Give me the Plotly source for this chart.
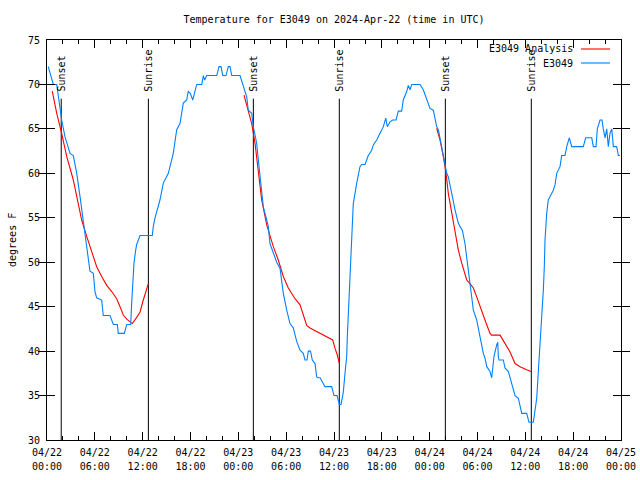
import plotly.graph_objects as go
import pandas as pd

# ---------------- data ----------------
BASE = "2024-04-22 00:00"

# observed E3049 temperatures (hours since BASE, degrees F)
obs_hours = [0.16, 0.59, 0.79, 1.22, 1.63, 1.84, 2.26, 2.89, 3.30, 3.73, 4.14, 4.55, 4.77, 4.98,
             5.18, 5.39, 5.81, 6.02, 6.23, 6.86, 7.06, 7.90, 8.32, 8.82, 8.94, 9.70, 10.00, 10.50,
             10.62, 10.75, 10.91, 11.13, 11.25, 11.67, 13.21, 13.33, 13.55, 14.17, 14.59, 15.22,
             15.84, 16.27, 16.68, 17.10, 17.52, 17.72, 17.98, 18.28, 18.57, 18.78, 19.41, 19.61,
             19.78, 20.03, 21.29, 21.58, 21.83, 22.04, 22.45, 22.74, 22.96, 23.17, 24.21, 24.62,
             25.05, 25.25, 25.68, 25.88, 26.30, 26.51, 26.72, 27.13, 27.56, 27.76, 27.97, 28.39,
             28.81, 29.23, 29.64, 30.07, 30.48, 30.90, 31.32, 31.74, 32.15, 32.36, 32.61, 32.78,
             33.05, 33.28, 33.62, 33.83, 34.03, 34.25, 34.87, 35.71, 36.00, 36.38, 36.67, 36.88,
             37.17, 37.38, 37.59, 37.67, 37.80, 37.92, 38.01, 38.13, 38.26, 38.42, 38.85, 39.26,
             39.48, 39.89, 40.30, 40.73, 40.93, 41.36, 41.77, 42.19, 42.49, 42.69, 43.03, 43.36,
             43.78, 44.07, 44.49, 44.69, 45.12, 45.32, 45.54, 45.75, 46.16, 46.79, 47.20, 47.63,
             48.04, 48.46, 48.67, 48.88, 49.09, 49.51, 49.71, 49.93, 50.14, 50.34, 50.55, 50.77,
             51.18, 51.59, 51.81, 52.10, 52.43, 52.65, 52.85, 53.06, 53.27, 53.48, 53.90, 54.10,
             54.32, 54.73, 54.94, 55.16, 55.57, 55.78, 55.91, 56.07, 56.41, 56.54, 56.61, 56.70,
             57.24, 57.45, 57.87, 58.08, 58.29, 58.71, 59.12, 59.34, 59.55, 60.17, 60.46, 61.00,
             61.22, 61.43, 61.63, 61.84, 62.06, 62.26, 62.38, 62.47, 62.68, 62.88, 63.10, 63.51,
             63.72, 63.94, 64.35, 64.56, 64.98, 65.19, 65.52, 65.82, 67.27, 67.57, 68.33, 68.53,
             68.87, 69.03, 69.37, 69.62, 69.78, 70.00, 70.21, 70.41, 70.62, 70.84, 71.04, 71.46,
             71.67, 71.88]
obs_temps = [72, 70.5, 70, 70, 67.5, 66, 64.1, 62.25, 62, 60, 57.4, 54.6, 53.25, 51.75,
             50.4, 49, 48.75, 46.7, 46, 45.75, 44, 44, 43, 43, 42, 42, 43, 43,
             45.4, 47.4, 49.9, 51.4, 52, 53, 53, 54, 55, 57, 58.9, 60,
             62.25, 64.9, 65.6, 67.9, 68.25, 69.2, 69, 68.25, 69.2, 70, 70, 71,
             70.5, 71, 71, 72, 72, 71, 71, 72, 72, 71, 71, 69.75,
             68.6, 67.1, 66.75, 65.25, 63.4, 61.5, 59.5, 56.25, 54.75, 54, 52.1, 51,
             50, 49.3, 46.5, 44.6, 43.1, 42.6, 41.1, 40.1, 39.75, 39, 39, 40,
             40, 39, 38.6, 37.1, 37, 37, 36, 36, 35, 35, 34, 34,
             35.4, 37.5, 39.4, 41.6, 44.25, 46.9, 49.1, 51.75, 54, 56.6, 58.9, 60.75,
             61, 61, 62, 62.6, 63.2, 63.75, 64.5, 65.25, 66.2, 65.25, 65.8, 66,
             66, 67, 67, 68.25, 69.2, 69.9, 69.4, 70, 70, 70, 69.4, 68.25,
             67.3, 67.1, 66, 65.25, 64.9, 63, 61.9, 60.75, 60, 59.6, 58.5, 57.75,
             55.9, 54.4, 54, 53.6, 52.1, 50.6, 48.75, 47.6, 45.75, 44.6, 43.5, 42.4,
             41.6, 39.75, 39.2, 38.25, 37.7, 37, 38.25, 39.4, 40.7, 41, 39.4, 39,
             39, 38.1, 37.7, 37, 36.6, 35, 34.7, 33.75, 33, 33, 32, 32,
             33.4, 34.7, 37.7, 40.5, 44.25, 46.9, 49.5, 52.5, 55.5, 57, 57.4, 58.1,
             58.7, 60, 60.75, 62, 62, 63, 64, 63, 63, 64, 64, 63,
             63, 65, 66, 66, 65, 64, 65, 63, 64.5, 65, 63, 63,
             62, 62]

# analysis, night-time segments (hours since BASE, degrees F)
ana1_hours = [0.66, 1.22, 1.84, 2.47, 3.30, 3.93, 4.35, 4.98, 5.61, 6.23, 6.86, 7.49, 8.12,
              8.74, 9.16, 9.57, 10.00, 10.41, 10.70, 11.25, 11.67, 12.08, 12.51, 12.71]
ana1_temps = [69.26, 66.75, 64.5, 61.9, 59.25, 56.6, 54.75, 52.9, 51.2, 49.5, 48.4, 47.4, 46.7,
              45.9, 45.0, 44.06, 43.6, 43.3, 43.1, 43.8, 44.4, 45.75, 47.1, 47.6]
ana2_hours = [24.71, 25.25, 25.68, 26.09, 26.51, 26.93, 27.56, 27.97, 28.39, 29.01, 29.64,
              30.27, 31.11, 31.74, 32.15, 32.58, 32.99, 33.83, 34.66, 35.50, 35.84, 36.13,
              36.42, 36.67]
ana2_temps = [68.8, 67.1, 65.6, 63.4, 60.4, 57.0, 54.2, 52.9, 51.75, 50.25, 48.4,
              47.1, 45.9, 45.2, 44.06, 42.9, 42.6, 42.2, 41.8, 41.4, 41.25, 40.3,
              39.56, 38.6]
ana3_hours = [48.88, 49.30, 49.71, 50.05, 50.34, 50.77, 51.18, 51.59, 52.02, 52.65, 53.06,
              53.48, 53.90, 54.32, 54.94, 55.57, 55.78, 56.83, 57.45, 58.08, 58.71, 59.34,
              60.17, 60.71]
ana3_temps = [65.07, 63.75, 61.9, 60.0, 57.75, 55.5, 53.25, 51.4, 49.9, 48.0, 47.6,
              47.1, 46.1, 45.0, 43.5, 42.0, 41.8, 41.8, 40.9, 39.9, 38.6, 38.25,
              37.9, 37.7]

# sunrise / sunset events
sun_labels = ["Sunset", "Sunrise", "Sunset", "Sunrise", "Sunset", "Sunrise"]
sun_times = ["2024-04-22 01:47", "2024-04-22 12:43", "2024-04-23 01:53",
             "2024-04-23 12:40", "2024-04-24 01:58", "2024-04-24 12:45"]

y_ticks = [30, 35, 40, 45, 50, 55, 60, 65, 70, 75]

title_text = "Temperature for E3049 on 2024-Apr-22 (time in UTC)"
series_names = ["E3049 Analysis", "E3049"]
series_colors = ["#ff0000", "#0080ff"]

# ---------------- build ----------------
base = pd.Timestamp(BASE)


def to_time(hours):
    return [base + pd.Timedelta(hours=h) for h in hours]


ana_x, ana_y = [], []
for hrs, tmps in [(ana1_hours, ana1_temps), (ana2_hours, ana2_temps), (ana3_hours, ana3_temps)]:
    ana_x += to_time(hrs) + [None]
    ana_y += tmps + [None]

FONT = "DejaVu Sans Mono"
X_RANGE = ["2024-04-22 00:00", "2024-04-25 00:00"]
DTICK = 6 * 3600 * 1000

fig = go.Figure()
fig.add_trace(go.Scatter(x=ana_x, y=ana_y, mode="lines", name=series_names[0],
                         line=dict(color=series_colors[0], width=1.1), connectgaps=False,
                         showlegend=False))
fig.add_trace(go.Scatter(x=to_time(obs_hours), y=obs_temps, mode="lines", name=series_names[1],
                         line=dict(color=series_colors[1], width=1.1), showlegend=False))
# invisible helper trace for the second (time-of-day) label row
fig.add_trace(go.Scatter(x=X_RANGE, y=[None, None], xaxis="x2", yaxis="y", mode="lines",
                         showlegend=False, hoverinfo="skip"))

LINE_TOP = 68.4
for lbl, t in zip(sun_labels, sun_times):
    fig.add_shape(type="line", xref="x", yref="y", x0=t, x1=t, y0=y_ticks[0], y1=LINE_TOP,
                  line=dict(color="black", width=1), layer="below")
    fig.add_annotation(x=t, y=69.0, xref="x", yref="y", text=lbl, textangle=-90,
                       showarrow=False, xanchor="center", yanchor="bottom",
                       font=dict(family=FONT, size=10, color="black"))

# manual gnuplot-style legend (text left, sample right)
leg_y = [0.9775, 0.9425]
for name, col, ly in zip(series_names, series_colors, leg_y):
    fig.add_annotation(x=0.9199, y=ly, xref="paper", yref="paper", text=name,
                       showarrow=False, xanchor="right", yanchor="middle",
                       font=dict(family=FONT, size=10, color="black"))
    fig.add_shape(type="line", xref="paper", yref="paper", x0=0.9303, x1=0.9808,
                  y0=ly, y1=ly, line=dict(color=col, width=1.1))

# y-axis label
fig.add_annotation(x=-0.061, y=0.5, xref="paper", yref="paper", text="degrees F",
                   textangle=-90, showarrow=False, xanchor="center", yanchor="middle",
                   font=dict(family=FONT, size=10, color="black"))

fig.update_layout(
    width=640, height=480,
    margin=dict(l=47, r=19, t=40, b=40, autoexpand=False),
    paper_bgcolor="white", plot_bgcolor="white",
    font=dict(family=FONT, size=10, color="black"),
    title=dict(text=title_text, x=0.5, xref="paper", y=1 - 19 / 480, yref="container",
               xanchor="center", yanchor="middle",
               font=dict(family=FONT, size=10, color="black")),
    showlegend=False,
    xaxis=dict(
        type="date", range=X_RANGE, automargin=False,
        tick0=X_RANGE[0], dtick=DTICK, tickformat="%m/%d",
        ticks="inside", ticklen=8, tickcolor="black", tickwidth=1,
        minor=dict(dtick=2 * 3600 * 1000, ticks="inside", ticklen=4, tickcolor="black",
                   showgrid=False),
        showline=True, linecolor="black", linewidth=1, mirror="allticks",
        showgrid=False, zeroline=False, ticklabelstandoff=3,
        tickfont=dict(family=FONT, size=10, color="black"),
    ),
    xaxis2=dict(
        type="date", range=X_RANGE, automargin=False, overlaying="x", side="bottom",
        anchor="y", matches="x",
        tick0=X_RANGE[0], dtick=DTICK, tickformat="%H:%M",
        ticks="", showline=False, showgrid=False, zeroline=False, ticklabelstandoff=19,
        tickfont=dict(family=FONT, size=10, color="black"),
    ),
    yaxis=dict(
        range=[30, 75], tickvals=y_ticks, ticktext=[str(v) for v in y_ticks], automargin=False,
        ticks="inside", ticklen=8, tickcolor="black", tickwidth=1,
        showline=True, linecolor="black", linewidth=1, mirror="allticks",
        showgrid=False, zeroline=False, ticklabelstandoff=4,
        tickfont=dict(family=FONT, size=10, color="black"),
    ),
)

fig.write_html("out.html")
